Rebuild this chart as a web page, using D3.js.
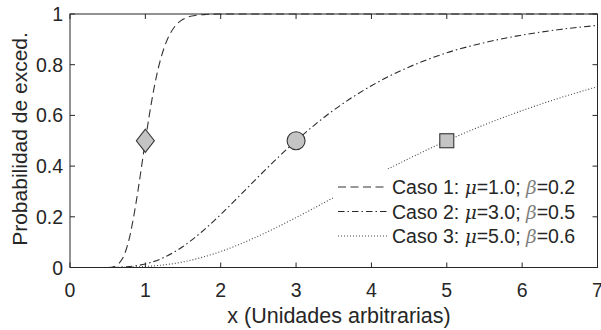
<!DOCTYPE html>
<html>
<head>
<meta charset="utf-8">
<script src="https://cdn.jsdelivr.net/npm/d3@7"></script>
<style>
  html, body { margin: 0; padding: 0; background: #fff; }
  svg { display: block; font-family: Arial, "Liberation Sans", Helvetica, sans-serif; }
</style>
</head>
<body>
<svg id="chart" width="601" height="330"></svg>
<script>
// Exceedance probability curves for three cases (values read at sample points)
const xTicks = [0, 1, 2, 3, 4, 5, 6, 7];
const yTicks = [0, 0.2, 0.4, 0.6, 0.8, 1];
const yTickLabels = ["0", "0.2", "0.4", "0.6", "0.8", "1"];

const caso1X = [0, 0.5, 0.6, 0.65, 0.7, 0.75, 0.8, 0.85, 0.9, 0.95, 1.0, 1.05, 1.1, 1.15, 1.2, 1.3, 1.4, 1.5, 1.6, 1.8, 2.0, 7.0];
const caso1Y = [0, 0, 0.005, 0.016, 0.037, 0.075, 0.132, 0.209, 0.299, 0.399, 0.5, 0.596, 0.683, 0.758, 0.819, 0.905, 0.954, 0.979, 0.991, 0.998, 1.0, 1.0];

const caso2X = [0, 0.5, 0.75, 1.0, 1.25, 1.5, 1.75, 2.0, 2.25, 2.5, 2.75, 3.0, 3.5, 4.0, 4.5, 5.0, 5.5, 6.0, 6.5, 7.0];
const caso2Y = [0, 0, 0.003, 0.014, 0.040, 0.083, 0.141, 0.209, 0.283, 0.358, 0.431, 0.5, 0.621, 0.717, 0.791, 0.847, 0.887, 0.917, 0.939, 0.955];

const caso3X = [0, 0.5, 0.75, 1.0, 1.5, 2.0, 2.5, 3.0, 3.5, 4.0, 4.5, 5.0, 5.5, 6.0, 6.5, 7.0];
const caso3Y = [0, 0, 0.001, 0.004, 0.022, 0.063, 0.124, 0.197, 0.276, 0.355, 0.430, 0.5, 0.563, 0.619, 0.669, 0.713];

// Median point of each case
const medianX = [1.0, 3.0, 5.0];
const medianY = [0.5, 0.5, 0.5];
const markerShapes = ["diamond", "circle", "square"];

const legendNames = ["Caso 1: ", "Caso 2: ", "Caso 3: "];
const legendMu = ["1.0", "3.0", "5.0"];
const legendBeta = ["0.2", "0.5", "0.6"];

const svg = d3.select("#chart");
const mLeft = 70, mRight = 597.5, mTop = 14, mBottom = 267.5;
const axisColor = "#262626";

const x = d3.scaleLinear().domain([0, 7]).range([mLeft, mRight]);
const y = d3.scaleLinear().domain([0, 1]).range([mBottom, mTop]);

const line = d3.line()
  .x(d => x(d[0]))
  .y(d => y(d[1]))
  .curve(d3.curveMonotoneX);

const series = [
  { xs: caso1X, ys: caso1Y, dash: "8,4.5", color: "#333" },
  { xs: caso2X, ys: caso2Y, dash: "6.5,3,1.5,3", color: "#2a2a2a" },
  { xs: caso3X, ys: caso3Y, dash: "1,2", color: "#444" }
];

const plot = svg.append("g");
plot.append("defs").append("clipPath").attr("id", "clip")
  .append("rect").attr("x", mLeft).attr("y", mTop - 1)
  .attr("width", mRight - mLeft).attr("height", mBottom - mTop + 2);

const curves = plot.append("g").attr("clip-path", "url(#clip)");
series.forEach(s => {
  curves.append("path")
    .datum(s.xs.map((v, i) => [v, s.ys[i]]))
    .attr("d", line)
    .attr("fill", "none")
    .attr("stroke", s.color)
    .attr("stroke-width", 1.1)
    .attr("stroke-dasharray", s.dash);
});

// Median markers
const markers = plot.append("g");
medianX.forEach((mx, i) => {
  const cx = x(mx), cy = y(medianY[i]);
  const shape = markerShapes[i];
  let m;
  if (shape === "diamond") {
    m = markers.append("path")
      .attr("d", `M${cx},${cy - 11.5}L${cx + 9},${cy}L${cx},${cy + 11.5}L${cx - 9},${cy}Z`);
  } else if (shape === "circle") {
    m = markers.append("circle").attr("cx", cx).attr("cy", cy).attr("r", 9);
  } else {
    m = markers.append("rect").attr("x", cx - 7).attr("y", cy - 7)
      .attr("width", 14).attr("height", 14);
  }
  m.attr("fill", "#c4c4c4").attr("stroke", "#333").attr("stroke-width", 1.1);
});

// Axes box with inward ticks on all sides
const axes = svg.append("g");
axes.append("rect")
  .attr("x", mLeft).attr("y", mTop)
  .attr("width", mRight - mLeft).attr("height", mBottom - mTop)
  .attr("fill", "none").attr("stroke", axisColor).attr("stroke-width", 1);

const tl = 5;
xTicks.forEach(t => {
  const px = x(t);
  axes.append("line").attr("x1", px).attr("x2", px).attr("y1", mBottom).attr("y2", mBottom - tl)
    .attr("stroke", axisColor);
  axes.append("line").attr("x1", px).attr("x2", px).attr("y1", mTop).attr("y2", mTop + tl)
    .attr("stroke", axisColor);
  axes.append("text").attr("x", px).attr("y", mBottom + 29)
    .attr("text-anchor", "middle").attr("font-size", 19.5).attr("fill", axisColor)
    .text(t);
});
yTicks.forEach((t, i) => {
  const py = y(t);
  axes.append("line").attr("x1", mLeft).attr("x2", mLeft + tl).attr("y1", py).attr("y2", py)
    .attr("stroke", axisColor);
  axes.append("line").attr("x1", mRight).attr("x2", mRight - tl).attr("y1", py).attr("y2", py)
    .attr("stroke", axisColor);
  axes.append("text").attr("x", 63).attr("y", py + 7)
    .attr("text-anchor", "end").attr("font-size", 19.5).attr("fill", axisColor)
    .text(yTickLabels[i]);
});

axes.append("text")
  .attr("x", 339).attr("y", 323)
  .attr("text-anchor", "middle").attr("font-size", 21.5).attr("fill", axisColor)
  .text("x (Unidades arbitrarias)");

axes.append("text")
  .attr("transform", `translate(27,139) rotate(-90)`)
  .attr("text-anchor", "middle").attr("font-size", 21).attr("fill", axisColor)
  .text("Probabilidad de exced.");

// Legend with opaque background
const legend = svg.append("g");
legend.append("rect")
  .attr("x", 333).attr("y", 169).attr("width", 258).attr("height", 80)
  .attr("fill", "#fff");
const rowY = [187, 211.5, 236];
series.forEach((s, i) => {
  legend.append("line")
    .attr("x1", 338).attr("x2", 387).attr("y1", rowY[i]).attr("y2", rowY[i])
    .attr("stroke", s.color).attr("stroke-width", 1.1).attr("stroke-dasharray", s.dash);
  const t = legend.append("text").attr("x", 392).attr("y", rowY[i] + 7)
    .attr("font-size", 19.5).attr("fill", axisColor);
  t.append("tspan").text(legendNames[i]);
  t.append("tspan").attr("font-style", "italic").attr("font-family", "'DejaVu Serif', serif").attr("font-size", 18.5).text("μ");
  t.append("tspan").text("=" + legendMu[i] + "; ");
  t.append("tspan").attr("font-style", "italic").attr("font-family", "'DejaVu Serif', serif").attr("font-size", 18.5).attr("fill", "#808080").text("β");
  t.append("tspan").text("=" + legendBeta[i]);
});
</script>
</body>
</html>
